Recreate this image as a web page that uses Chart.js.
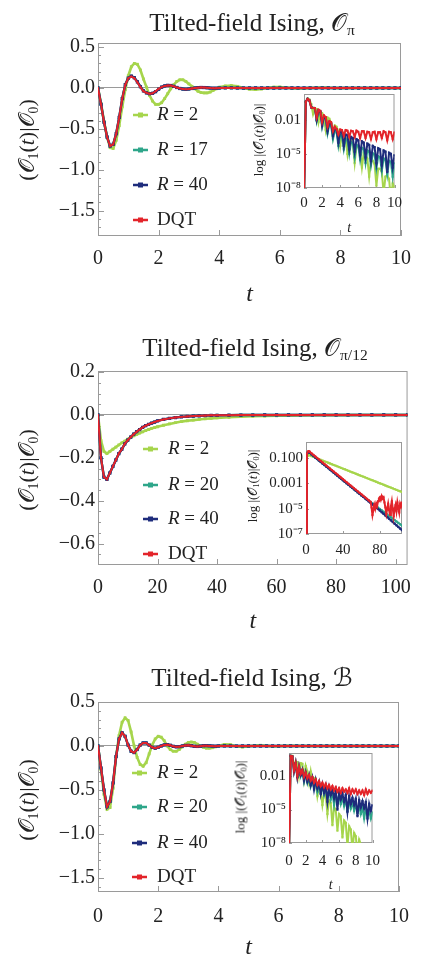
<!DOCTYPE html>
<html>
<head>
<meta charset="utf-8">
<script src="https://cdn.jsdelivr.net/npm/chart.js@4.4.1/dist/chart.umd.min.js"></script>
<style>
  body { margin: 0; background: #fff; width: 422px; height: 957px; position: relative; overflow: hidden;
         font-family: "Liberation Serif", serif; color: #222; }
  canvas { position: absolute; }
  .lbl { position: absolute; white-space: nowrap; transform: translate(-50%, -50%); line-height: 1; }
  .rot { transform: translate(-50%, -50%) rotate(-90deg); }
  .cal { font-family: "DejaVu Serif", "DejaVu Sans", serif; font-style: normal; }
  sub { font-size: 62%; vertical-align: -0.3em; line-height: 0; }
  .ttl { font-size: 25px; }
  .ytl { font-size: 22px; }
  .itl { font-size: 13px; }
  .warm { position: absolute; left: -200px; top: 0; }
</style>
</head>
<body>
<span class="warm">0.5 <i>R</i></span>
<canvas id="m1" width="422" height="310" style="left:0;top:0"></canvas>
<canvas id="m2" width="422" height="317" style="left:0;top:320px"></canvas>
<canvas id="m3" width="422" height="323" style="left:0;top:640px"></canvas>
<canvas id="i1" width="154" height="155" style="left:254px;top:82px"></canvas>
<canvas id="i2" width="150" height="132" style="left:256px;top:430px"></canvas>
<canvas id="i3" width="150" height="153" style="left:239px;top:741px"></canvas>

<div class="lbl ttl" style="left:252px;top:22px">Tilted-field Ising, <span class="cal">𝒪</span><sub>π</sub></div>
<div class="lbl ttl" style="left:255px;top:347px">Tilted-field Ising, <span class="cal">𝒪</span><sub>π/12</sub></div>
<div class="lbl ttl" style="left:252px;top:677px">Tilted-field Ising, <span class="cal">ℬ</span></div>

<div class="lbl rot ytl" style="left:27px;top:140px">(<span class="cal">𝒪</span><sub>1</sub>(<i>t</i>)|<span class="cal">𝒪</span><sub>0</sub>)</div>
<div class="lbl rot ytl" style="left:27px;top:470px">(<span class="cal">𝒪</span><sub>1</sub>(<i>t</i>)|<span class="cal">𝒪</span><sub>0</sub>)</div>
<div class="lbl rot ytl" style="left:27px;top:800px">(<span class="cal">𝒪</span><sub>1</sub>(<i>t</i>)|<span class="cal">𝒪</span><sub>0</sub>)</div>

<div class="lbl rot itl" style="left:258px;top:140px">log |(<span class="cal">𝒪</span><sub>1</sub>(<i>t</i>)|<span class="cal">𝒪</span><sub>0</sub>)|</div>
<div class="lbl rot itl" style="left:252px;top:486px">log |(<span class="cal">𝒪</span><sub>1</sub>(<i>t</i>)|<span class="cal">𝒪</span><sub>0</sub>)|</div>
<div class="lbl rot itl" style="left:240px;top:797px">log |(<span class="cal">𝒪</span><sub>1</sub>(<i>t</i>)|<span class="cal">𝒪</span><sub>0</sub>)|</div>

<script>
// colours: R = 2, R = 17/20, R = 40, DQT
const COLORS = ['#a6d54c', '#2ea68a', '#1e2c7c', '#e3242a'];
const FONT = '"Liberation Serif", serif';

const labels1 = ['R = 2', 'R = 17', 'R = 40', 'DQT'];
const labels2 = ['R = 2', 'R = 20', 'R = 40', 'DQT'];
const labels3 = ['R = 2', 'R = 20', 'R = 40', 'DQT'];

// tick values / labels
const xTicks1 = [0, 2, 4, 6, 8, 10];
const yTicks1 = [-1.5, -1, -0.5, 0, 0.5];
const xTicks2 = [0, 20, 40, 60, 80, 100];
const yTicks2 = [-0.6, -0.4, -0.2, 0, 0.2];
const xTicks3 = [0, 2, 4, 6, 8, 10];
const yTicks3 = [-1.5, -1, -0.5, 0, 0.5];
const inX1 = [0, 2, 4, 6, 8, 10];
const inY1 = [1e-8, 1e-5, 1e-2];
const inYLab1 = ['10⁻⁸', '10⁻⁵', '0.01'];
const inX2 = [0, 40, 80];
const inY2 = [1e-7, 1e-5, 1e-3, 1e-1];
const inYLab2 = ['10⁻⁷', '10⁻⁵', '0.001', '0.100'];
const inX3 = [0, 2, 4, 6, 8, 10];
const inY3 = [1e-8, 1e-5, 1e-2];
const inYLab3 = ['10⁻⁸', '10⁻⁵', '0.01'];

// time grids
const tMain = [0,0.1,0.2,0.3,0.4,0.5,0.6,0.7,0.8,0.9,1,1.1,1.2,1.3,1.4,1.5,1.6,1.7,1.8,1.9,2,2.1,2.2,2.3,2.4,2.5,2.6,2.7,2.8,2.9,3,3.1,3.2,3.3,3.4,3.5,3.6,3.7,3.8,3.9,4,
  4.2,4.4,4.6,4.8,5,5.2,5.4,5.6,5.8,6,6.2,6.4,6.6,6.8,7,7.2,7.4,7.6,7.8,8,8.2,8.4,8.6,8.8,9,9.2,9.4,9.6,9.8,10];
const tInset = [0,0.2,0.4,0.6,0.8,1,1.2,1.4,1.6,1.8,2,2.2,2.4,2.6,2.8,3,3.2,3.4,3.6,3.8,4,4.2,4.4,4.6,4.8,5,5.2,5.4,5.6,5.8,
  6,6.2,6.4,6.6,6.8,7,7.2,7.4,7.6,7.8,8,8.2,8.4,8.6,8.8,9,9.2,9.4,9.6,9.8,10];
const tLong = [0,1,2,3,4,5,6,7,8,9,10,11,12,13,14,15,16,17,18,19,20,22,24,26,28,30,32,34,36,38,40,
  44,48,52,56,60,64,68,72,76,80,84,88,92,96,100,104];
const tLongInset = [0,1,2,3,4,6,8,10,12,14,16,18,20,22,24,26,28,30,32,34,36,38,40,42,44,46,48,50,52,54,
  56,58,60,62,64,66,68,70,72,74,76,78,80,82,84,86,88,90,92,94,96,98,100,102,104];
const tLongRed = [0,1,2,3,4,6,8,10,12,14,16,18,20,22,24,26,28,30,32,34,36,38,40,42,44,46,48,50,52,54,56,58,60,62,64,66,68,
  70,71,72,73,74,75,76,77,78,79,80,81,82,83,84,85,86,87,88,89,90,91,92,93,94,95,96,97,98,99,100,101,102,103,104];

// ---- panel 1: O_pi, main values ----
const p1Green = [0,-0.19,-0.41,-0.60,-0.73,-0.74,-0.64,-0.46,-0.23,-0.02,
  0.15,0.26,0.30,0.29,0.22,0.11,0.01,-0.09,-0.16,-0.20,
  -0.20,-0.18,-0.13,-0.07,-0.01,0.04,0.08,0.10,0.10,0.08,
  0.05,0.02,-0.01,-0.04,-0.055,-0.06,-0.06,-0.05,-0.03,-0.01,
  0.01,
  0.025,0.03,0.02,0,-0.015,-0.02,-0.012,0,0.01,0.012,0.006,-0.003,-0.007,-0.005,0,0.003,0.004,0.002,-0.001,-0.002,
  -0.001,0,0,0,0,0,0,0,0,0];
const p1Teal = [0,-0.20,-0.42,-0.60,-0.71,-0.69,-0.56,-0.36,-0.13,0.04,
  0.12,0.145,0.125,0.075,0.015,-0.035,-0.06,-0.07,-0.065,-0.045,
  -0.015,0.01,0.025,0.032,0.03,0.02,0.006,-0.006,-0.013,-0.015,
  -0.012,-0.006,0,0.004,0.006,0.005,0.002,-0.001,-0.002,-0.002,
  -0.001,
  0.001,0.001,0,-0.001,0,0.001,0,0,-0.001,0,0,0,0.001,0,0,0,0,0,0,0,0,0,0,0,0,0,0,0,0,0];
const p1Blue = [0,-0.20,-0.42,-0.60,-0.71,-0.69,-0.56,-0.36,-0.13,0.04,
  0.12,0.145,0.125,0.075,0.015,-0.035,-0.06,-0.07,-0.065,-0.045,
  -0.015,0.01,0.025,0.032,0.03,0.02,0.006,-0.006,-0.013,-0.015,
  -0.012,-0.006,0,0.004,0.006,0.005,0.002,-0.001,-0.002,-0.002,
  -0.001,
  0.001,0.001,0,-0.001,0,0.001,0,0,-0.001,0,0,0,0.001,0,0,0,0,0,0,0,0,0,0,0,0,0,0,0,0,0];
const p1Red = [0,-0.20,-0.42,-0.60,-0.71,-0.69,-0.56,-0.36,-0.13,0.04,
  0.12,0.14,0.12,0.07,0.01,-0.04,-0.06,-0.07,-0.065,-0.04,
  -0.01,0.01,0.025,0.03,0.03,0.02,0.005,-0.005,-0.012,-0.015,
  -0.012,-0.006,0,0.004,0.006,0.005,0.002,-0.001,-0.002,-0.002,
  -0.001,
  0.001,0.001,0,-0.001,0,0.001,0,0,-0.001,0,0,0,0.001,0,0,0,0,0,0,0,0,0,0,0,0,0,0,0,0,0];

// panel 1 inset, log10 |value|
const p1InGreen = [-9,-0.4,-0.13,-0.2,-0.6,-1.5,-0.95,-1.05,-2.2,-1.3,
  -1.4,-1.8,-2.9,-1.8,-1.9,-2.3,-3.5,-2.5,-2.6,-3.0,
  -4.3,-3.1,-3.2,-3.6,-5.0,-3.7,-3.8,-4.2,-5.8,-4.3,
  -4.4,-4.7,-6.2,-4.9,-5.0,-5.4,-7.0,-5.6,-5.6,-5.9,
  -7.8,-6.3,-6.3,-6.6,-8.5,-7.0,-6.9,-7.2,-9,-7.6,
  -7.9];
const p1InTeal = [-9,-0.4,-0.15,-0.3,-0.9,-0.95,-0.97,-2.1,-1.2,-1.3,
  -2.6,-1.8,-1.95,-3.2,-2.4,-2.55,-3.7,-2.95,-3.1,-4.3,
  -3.35,-3.45,-4.6,-3.7,-3.8,-5.0,-3.95,-4.05,-5.3,-4.2,
  -4.3,-5.5,-4.45,-4.55,-5.8,-4.7,-4.8,-6.0,-4.95,-5.05,
  -6.3,-5.2,-5.3,-6.5,-5.4,-5.5,-6.8,-5.6,-5.7,-7.0,
  -5.8];
const p1InBlue = [-9,-0.4,-0.15,-0.3,-0.9,-0.95,-0.97,-2.0,-1.15,-1.25,
  -2.5,-1.7,-1.8,-3.0,-2.2,-2.3,-3.4,-2.7,-2.85,-4.0,
  -3.0,-3.1,-4.3,-3.3,-3.35,-4.6,-3.5,-3.6,-4.8,-3.7,
  -3.8,-5.1,-3.9,-4.0,-5.3,-4.1,-4.2,-5.6,-4.3,-4.4,
  -5.8,-4.5,-4.6,-6.0,-4.7,-4.8,-6.6,-4.9,-5.0,-6.2,
  -5.1];
const p1InRed = [-9,-0.4,-0.15,-0.3,-0.9,-0.95,-0.95,-1.8,-1.1,-1.2,
  -2.2,-1.6,-1.75,-2.6,-2.1,-2.2,-3.0,-2.6,-2.8,-3.3,
  -2.85,-2.9,-3.4,-2.9,-2.95,-3.5,-2.95,-3.0,-3.5,-2.95,
  -3.05,-3.6,-3.0,-3.0,-3.6,-3.05,-3.1,-3.7,-3.1,-3.05,
  -3.7,-3.1,-3.1,-3.6,-3.0,-3.1,-3.8,-3.05,-3.1,-3.7,
  -3.1];

// ---- panel 2: O_pi/12 ----
const p2Green = [0,-0.12,-0.17,-0.18,-0.17,-0.16,-0.15,-0.14,-0.13,-0.122,
  -0.113,-0.105,-0.097,-0.091,-0.085,-0.079,-0.073,-0.068,-0.063,-0.059,
  -0.055,
  -0.048,-0.042,-0.036,-0.031,-0.027,-0.024,-0.021,-0.018,-0.016,-0.014,
  -0.011,-0.008,-0.006,-0.005,-0.004,-0.003,-0.002,-0.0015,-0.001,-0.001,-0.0008,-0.0006,-0.0005,-0.0004,-0.0003,-0.0002];
const p2Teal = [0,-0.20,-0.29,-0.30,-0.27,-0.24,-0.21,-0.18,-0.16,-0.135,
  -0.118,-0.103,-0.09,-0.078,-0.068,-0.058,-0.05,-0.044,-0.038,-0.033,
  -0.028,
  -0.021,-0.016,-0.012,-0.009,-0.007,-0.005,-0.004,-0.003,-0.002,-0.0015,
  -0.001,-0.0006,-0.0003,-0.0002,-0.0001,0,0,0,0,0,0,0,0,0,0,0];
const p2Blue = [0,-0.20,-0.29,-0.30,-0.27,-0.24,-0.21,-0.18,-0.16,-0.135,
  -0.118,-0.103,-0.09,-0.078,-0.068,-0.058,-0.05,-0.044,-0.038,-0.033,
  -0.028,
  -0.021,-0.016,-0.012,-0.009,-0.007,-0.005,-0.004,-0.003,-0.002,-0.0015,
  -0.001,-0.0006,-0.0003,-0.0002,-0.0001,0,0,0,0,0,0,0,0,0,0,0];
const p2Red = [0,-0.20,-0.29,-0.30,-0.27,-0.24,-0.21,-0.18,-0.16,-0.135,
  -0.118,-0.103,-0.09,-0.078,-0.068,-0.058,-0.05,-0.044,-0.038,-0.033,
  -0.028,
  -0.021,-0.016,-0.012,-0.009,-0.007,-0.005,-0.004,-0.003,-0.002,-0.0015,
  -0.001,-0.0006,-0.0003,-0.0002,-0.0001,0,0,0,0,0,0,0,0,0,0,0];

const p2InGreen = [-9,-0.95,-0.80,-0.76,-0.77,
  -0.84,-0.90,-0.96,-1.01,-1.07,-1.13,-1.19,-1.25,-1.30,-1.36,
  -1.42,-1.48,-1.54,-1.59,-1.65,-1.71,-1.77,-1.83,-1.88,-1.94,
  -2.00,-2.06,-2.12,-2.17,-2.23,-2.29,-2.35,-2.41,-2.46,-2.52,
  -2.58,-2.64,-2.70,-2.75,-2.81,-2.87,-2.93,-2.99,-3.04,-3.10,
  -3.16,-3.22,-3.28,-3.33,-3.39,-3.45,-3.51,-3.57,-3.62,-3.68];
const p2InTeal = [-9,-0.70,-0.54,-0.52,-0.56,
  -0.70,-0.82,-0.94,-1.06,-1.18,-1.30,-1.42,-1.54,-1.66,-1.78,
  -1.90,-2.02,-2.14,-2.26,-2.38,-2.50,-2.62,-2.74,-2.86,-2.98,
  -3.10,-3.22,-3.34,-3.46,-3.58,-3.70,-3.82,-3.94,-4.03,-4.14,
  -4.25,-4.36,-4.47,-4.58,-4.69,-4.80,-4.91,-5.02,-5.13,-5.24,
  -5.35,-5.46,-5.57,-5.68,-5.79,-5.90,-6.01,-6.12,-6.23,-6.34];
const p2InBlue = [-9,-0.70,-0.54,-0.52,-0.56,
  -0.70,-0.82,-0.94,-1.06,-1.18,-1.30,-1.42,-1.54,-1.66,-1.78,
  -1.90,-2.02,-2.14,-2.26,-2.38,-2.50,-2.62,-2.74,-2.86,-2.98,
  -3.10,-3.22,-3.34,-3.46,-3.58,-3.70,-3.82,-3.94,-4.06,-4.18,
  -4.30,-4.42,-4.54,-4.66,-4.78,-4.90,-5.02,-5.14,-5.27,-5.40,
  -5.53,-5.66,-5.79,-5.92,-6.05,-6.18,-6.31,-6.44,-6.57,-6.70];
const p2InRed = [-9,-0.66,-0.47,-0.44,-0.48,
  -0.62,-0.74,-0.86,-0.98,-1.10,-1.22,-1.34,-1.46,-1.58,-1.70,-1.82,-1.94,-2.06,-2.18,-2.30,-2.42,
  -2.54,-2.66,-2.78,-2.90,-3.02,-3.14,-3.26,-3.38,-3.50,-3.62,-3.74,-3.86,-3.98,-4.10,-4.22,-4.34,
  -4.45,-4.9,-5.5,-5.1,-4.7,-5.0,-4.6,-4.8,-4.4,-4.2,-4.1,-4.3,-4.0,-4.2,-4.1,-4.5,-4.9,-5.4,
  -5.0,-4.6,-5.1,-5.5,-4.8,-4.4,-5.0,-5.6,-5.0,-4.7,-5.2,-4.5,-4.9,-5.3,-4.6,-4.8,-4.5];

// ---- panel 3: B ----
const p3Green = [0,-0.27,-0.55,-0.72,-0.70,-0.48,-0.12,0.12,0.27,0.32,
  0.29,0.16,0,-0.13,-0.21,-0.23,-0.19,-0.09,0.01,0.08,
  0.11,0.10,0.06,0,-0.04,-0.06,-0.06,-0.04,-0.01,0.02,
  0.04,0.045,0.04,0.02,0,-0.015,-0.025,-0.025,-0.02,-0.01,
  0,
  0.018,0.015,-0.005,-0.012,-0.006,0.005,0.008,0.002,-0.004,-0.003,0.001,0.002,0.001,-0.001,0,0,0,0,0,0,
  0,0,0,0,0,0,0,0,0,0];
const p3Teal = [0,-0.25,-0.50,-0.69,-0.63,-0.42,-0.12,0.08,0.15,0.11,
  0.01,-0.06,-0.075,-0.04,0.01,0.035,0.035,0.01,-0.015,-0.025,
  -0.015,0,0.012,0.015,0.008,-0.004,-0.01,-0.008,0,0.006,
  0.007,0.003,-0.003,-0.005,-0.002,0.002,0.003,0.001,-0.001,-0.002,
  0,
  0.001,0,-0.001,0,0.001,0,0,0,0,0,0,0,0,0,0,0,0,0,0,0,0,0,0,0,0,0,0,0,0,0];
const p3Blue = [0,-0.25,-0.50,-0.69,-0.63,-0.42,-0.12,0.08,0.15,0.11,
  0.01,-0.06,-0.075,-0.04,0.01,0.035,0.035,0.01,-0.015,-0.025,
  -0.015,0,0.012,0.015,0.008,-0.004,-0.01,-0.008,0,0.006,
  0.007,0.003,-0.003,-0.005,-0.002,0.002,0.003,0.001,-0.001,-0.002,
  0,
  0.001,0,-0.001,0,0.001,0,0,0,0,0,0,0,0,0,0,0,0,0,0,0,0,0,0,0,0,0,0,0,0,0];
const p3Red = [0,-0.25,-0.50,-0.69,-0.63,-0.42,-0.12,0.08,0.15,0.11,
  0.01,-0.06,-0.075,-0.04,0.01,0.035,0.035,0.01,-0.015,-0.025,
  -0.015,0,0.012,0.015,0.008,-0.004,-0.01,-0.008,0,0.006,
  0.007,0.003,-0.003,-0.005,-0.002,0.002,0.003,0.001,-0.001,-0.002,
  0,
  0.001,0,-0.001,0,0.001,0,0,0,0,0,0,0,0,0,0,0,0,0,0,0,0,0,0,0,0,0,0,0,0,0];

const p3InGreen = [-9,-0.2,-0.2,-1.2,-0.7,-0.75,-2.0,-0.85,-0.9,-2.3,
  -1.1,-1.6,-2.6,-1.6,-2.6,-2.2,-2.4,-3.8,-2.9,-3.3,
  -4.6,-3.6,-3.7,-5.4,-4.2,-4.4,-6.4,-4.8,-5.0,-6.9,
  -5.4,-5.6,-7.5,-6.0,-6.2,-8.3,-6.5,-6.8,-8.6,-7.1,
  -7.4,-9,-7.7,-8.1,-9,-9,-9,-9,-9,-9,
  -9];
const p3InTeal = [-9,-0.2,-0.25,-1.6,-0.85,-2.1,-1.15,-2.0,-1.45,-2.5,
  -1.75,-2.6,-2.0,-2.9,-2.25,-3.1,-2.45,-3.4,-2.7,-3.5,
  -2.9,-3.7,-3.1,-3.9,-3.3,-4.1,-3.45,-4.6,-3.6,-4.3,
  -3.75,-4.5,-3.9,-4.7,-4.05,-5.1,-4.2,-4.9,-4.35,-5.1,
  -4.5,-5.3,-4.65,-5.4,-4.8,-5.8,-4.95,-5.6,-5.1,-5.8,
  -5.25];
const p3InBlue = [-9,-0.2,-0.25,-1.6,-0.85,-2.1,-1.15,-1.9,-1.45,-2.4,
  -1.7,-2.5,-1.95,-2.8,-2.15,-3.2,-2.35,-3.1,-2.55,-3.6,
  -2.75,-3.5,-2.9,-4.3,-3.05,-3.7,-3.2,-4.0,-3.35,-5.0,
  -3.45,-4.1,-3.6,-4.3,-3.7,-5.2,-3.8,-4.5,-3.95,-4.6,
  -4.05,-5.6,-4.15,-4.8,-4.25,-4.9,-4.35,-5.8,-4.5,-5.1,
  -4.6];
const p3InRed = [-9,-0.2,-0.25,-1.5,-0.85,-2.0,-1.15,-1.8,-1.45,-2.1,
  -1.7,-2.2,-1.9,-2.4,-2.1,-2.6,-2.3,-2.8,-2.45,-2.9,
  -2.6,-3.0,-2.7,-3.1,-2.8,-3.2,-2.9,-3.3,-3.0,-3.4,
  -3.1,-3.5,-3.1,-3.4,-3.2,-3.5,-3.1,-3.6,-3.2,-3.5,
  -3.2,-3.6,-3.3,-3.6,-3.3,-3.7,-3.2,-3.6,-3.3,-3.5,
  -3.3];

// ---------- plugins ----------
const framePlugin = {
  id: 'frame',
  beforeDatasetsDraw(chart, args, opts) {
    const { ctx, chartArea: a, scales: { x, y } } = chart;
    ctx.save();
    ctx.strokeStyle = opts.color || '#9a9a9a';
    ctx.lineWidth = 1;
    ctx.strokeRect(a.left + 0.5, a.top + 0.5, a.right - a.left - 1, a.bottom - a.top - 1);
    ctx.beginPath();
    const len = opts.len || 5;
    x.ticks.forEach(t => {
      const px = Math.round(x.getPixelForValue(t.value)) + 0.5;
      ctx.moveTo(px, a.bottom); ctx.lineTo(px, a.bottom - len);
    });
    y.ticks.forEach(t => {
      const py = Math.round(y.getPixelForValue(t.value)) + 0.5;
      ctx.moveTo(a.left, py); ctx.lineTo(a.left + len, py);
    });
    if (opts.yMinor) {
      for (let k = Math.ceil(y.min / opts.yMinor); k * opts.yMinor <= y.max; k++) {
        const py = Math.round(y.getPixelForValue(k * opts.yMinor)) + 0.5;
        ctx.moveTo(a.left, py); ctx.lineTo(a.left + len / 2, py);
      }
    }
    ctx.stroke();
    ctx.restore();
  }
};

const legendPlugin = {
  id: 'sideLegend',
  afterDraw(chart, args, opts) {
    if (!opts.ys) return;
    const ctx = chart.ctx;
    ctx.save();
    chart.data.datasets.forEach((ds, i) => {
      const y = opts.ys[i];
      ctx.strokeStyle = ds.borderColor;
      ctx.fillStyle = ds.borderColor;
      ctx.lineWidth = 2.5;
      ctx.beginPath();
      ctx.moveTo(opts.x, y); ctx.lineTo(opts.x + opts.len, y);
      ctx.stroke();
      ctx.fillRect(opts.x + opts.len / 2 - 2.5, y - 2.5, 5, 5);
      ctx.fillStyle = '#222';
      ctx.textBaseline = 'middle';
      let tx = opts.textX;
      let rest = ds.label;
      if (rest.startsWith('R')) {
        ctx.font = 'italic ' + opts.size + 'px ' + FONT;
        ctx.fillText('R', tx, y);
        tx += ctx.measureText('R').width;
        rest = rest.slice(1);
      }
      ctx.font = opts.size + 'px ' + FONT;
      ctx.fillText(rest, tx, y);
    });
    ctx.restore();
  }
};

Chart.register(framePlugin, legendPlugin);

function pts(t, v) { return v.map((y, k) => ({ x: t[k], y })); }
function logPts(t, v) { return v.map((e, k) => ({ x: t[k], y: Math.pow(10, e) })); }

// per-series line width and marker size: green, teal, blue, red
function makeSets(labels, series, widths, radii) {
  return series.map((d, i) => ({
    label: labels[i], data: d,
    borderColor: COLORS[i], backgroundColor: COLORS[i],
    borderWidth: widths[i], pointStyle: 'rect', pointRadius: radii[i], pointBorderWidth: 0,
    tension: 0, order: 4 - i
  }));
}

function mainChart(id, c) {
  return new Chart(document.getElementById(id), {
    type: 'line',
    data: { datasets: makeSets(c.labels, c.series, [2.6, 2.4, 2.4, 2], [2, 2, 2.3, 1.3]) },
    options: {
      responsive: false, animation: false, events: [],
      layout: { padding: { top: c.top, right: c.right, left: 0, bottom: 0 } },
      plugins: {
        legend: { display: false }, tooltip: { enabled: false },
        frame: { len: 6, yMinor: c.yMinor },
        sideLegend: { x: c.legX, len: 15, textX: c.legText, ys: c.legYs, size: 19 }
      },
      scales: {
        x: {
          type: 'linear', min: 0, max: c.xMax,
          grid: { display: false, drawTicks: false }, border: { display: false },
          afterBuildTicks: s => { s.ticks = c.xTicks.map(v => ({ value: v })); },
          afterFit: s => { s.height = c.xH; },
          ticks: { autoSkip: false, maxRotation: 0, padding: c.xPad, color: '#222',
                   font: { family: FONT, size: 20 }, callback: v => String(v) },
          title: { display: true, text: 't', color: '#222', padding: { top: 0, bottom: c.tPad },
                   font: { family: FONT, size: 24, style: 'italic' } }
        },
        y: {
          type: 'linear', min: c.yMin, max: c.yMax,
          border: { display: false },
          grid: { drawTicks: false, lineWidth: 1,
                  color: g => (g.tick && g.tick.value === 0) ? '#9a9a9a' : 'rgba(0,0,0,0)' },
          afterBuildTicks: s => { s.ticks = c.yTicks.map(v => ({ value: v })); },
          afterFit: s => { s.width = 98; },
          ticks: { autoSkip: false, padding: 3, color: '#222', font: { family: FONT, size: 20 },
                   callback: v => (v < 0 ? '\u2212' : '') + Math.abs(v).toFixed(1) }
        }
      }
    }
  });
}

function insetChart(id, c) {
  return new Chart(document.getElementById(id), {
    type: 'line',
    data: { datasets: makeSets(c.labels, c.series, [2, 2, 2, 2], [1.5, 1.5, 1.6, 1.4]) },
    options: {
      responsive: false, animation: false, events: [],
      layout: { padding: { top: c.top, right: c.right, left: 0, bottom: 0 } },
      plugins: { legend: { display: false }, tooltip: { enabled: false }, frame: { len: 3 } },
      scales: {
        x: {
          type: 'linear', min: 0, max: c.xMax,
          grid: { display: false, drawTicks: false }, border: { display: false },
          afterBuildTicks: s => { s.ticks = c.xTicks.map(v => ({ value: v })); },
          afterFit: s => { s.height = c.xH; },
          ticks: { autoSkip: false, maxRotation: 0, padding: c.xPad, color: '#222',
                   font: { family: FONT, size: 15 }, callback: v => String(v) },
          title: { display: c.tTitle, text: 't', color: '#222', padding: { top: 0, bottom: 0.6 },
                   font: { family: FONT, size: 14, style: 'italic' } }
        },
        y: {
          type: 'logarithmic', min: c.yMin, max: c.yMax,
          grid: { display: false, drawTicks: false }, border: { display: false },
          afterBuildTicks: s => { s.ticks = c.yTicks.map(v => ({ value: v })); },
          afterFit: s => { s.width = 50; },
          ticks: { autoSkip: false, padding: 3, color: '#222', font: { family: FONT, size: 15 },
                   callback: (v, i) => c.yLabels[i] }
        }
      }
    }
  });
}

function drawAll() {
  mainChart('m1', {
    labels: labels1,
    series: [pts(tMain, p1Green), pts(tMain, p1Teal), pts(tMain, p1Blue), pts(tMain, p1Red)],
    top: 43, right: 15, xH: 74, xPad: 11, tPad: 0.6,
    xMax: 10, xTicks: xTicks1, yMin: -1.81, yMax: 0.55, yTicks: yTicks1, yMinor: 0.1,
    legX: 133, legText: 157, legYs: [115, 150, 185, 220]
  });
  mainChart('m2', {
    labels: labels2,
    series: [pts(tLong, p2Green), pts(tLong, p2Teal), pts(tLong, p2Blue), pts(tLong, p2Red)],
    top: 51, right: 9, xH: 72, xPad: 11, tPad: 0.6,
    xMax: 104, xTicks: xTicks2, yMin: -0.7, yMax: 0.205, yTicks: yTicks2, yMinor: 0.05,
    legX: 143, legText: 168, legYs: [129, 165, 199, 234]
  });
  mainChart('m3', {
    labels: labels3,
    series: [pts(tMain, p3Green), pts(tMain, p3Teal), pts(tMain, p3Blue), pts(tMain, p3Red)],
    top: 62, right: 15, xH: 71, xPad: 13, tPad: 0.6,
    xMax: 10, xTicks: xTicks3, yMin: -1.66, yMax: 0.5, yTicks: yTicks3, yMinor: 0.1,
    legX: 132, legText: 157, legYs: [133, 167, 203, 237]
  });

  insetChart('i1', {
    labels: labels1,
    series: [logPts(tInset, p1InGreen), logPts(tInset, p1InTeal), logPts(tInset, p1InBlue), logPts(tInset, p1InRed)],
    top: 10, right: 8, xH: 49, xPad: 6, tTitle: true,
    xMax: 10, xTicks: inX1, yMin: 1e-8, yMax: 1.9, yTicks: inY1, yLabels: inYLab1
  });
  insetChart('i2', {
    labels: labels2,
    series: [logPts(tLongInset, p2InGreen), logPts(tLongInset, p2InTeal), logPts(tLongInset, p2InBlue), logPts(tLongRed, p2InRed)],
    top: 8, right: 4, xH: 28, xPad: 7, tTitle: false,
    xMax: 104, xTicks: inX2, yMin: 1e-7, yMax: 1.9, yTicks: inY2, yLabels: inYLab2
  });
  insetChart('i3', {
    labels: labels3,
    series: [logPts(tInset, p3InGreen), logPts(tInset, p3InTeal), logPts(tInset, p3InBlue), logPts(tInset, p3InRed)],
    top: 8, right: 4, xH: 51, xPad: 9, tTitle: true,
    xMax: 10, xTicks: inX3, yMin: 1e-8, yMax: 1.15, yTicks: inY3, yLabels: inYLab3
  });
}

// make sure the serif face is ready before the canvases paint text
Promise.all([
  document.fonts.load('20px "Liberation Serif"'),
  document.fonts.load('italic 20px "Liberation Serif"')
]).catch(() => {}).then(drawAll);
</script>
</body>
</html>
